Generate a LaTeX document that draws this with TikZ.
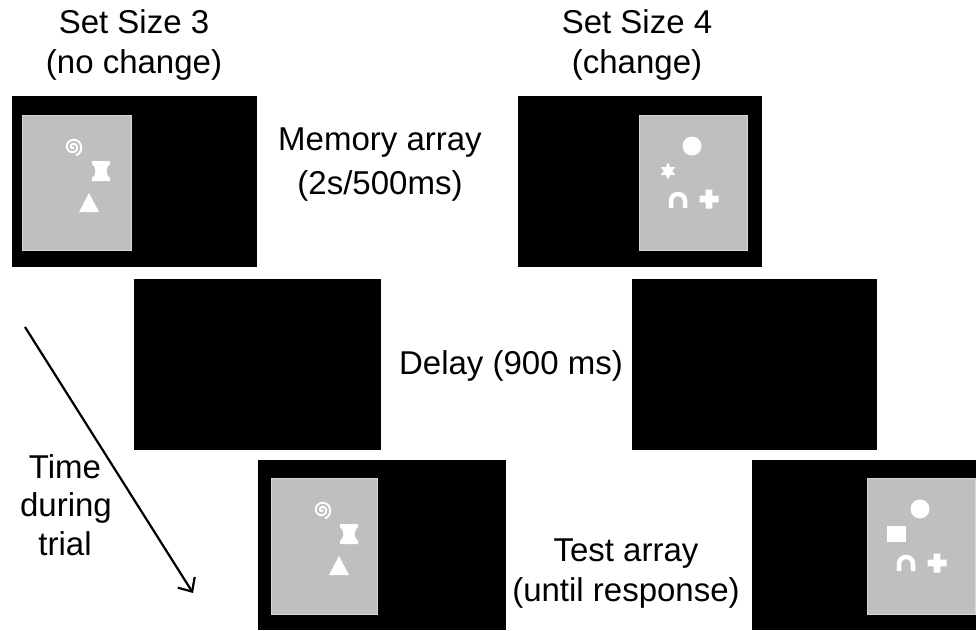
\documentclass[tikz,border=0pt]{standalone}
\usepackage{fontspec}
\setmainfont{Liberation Sans}
\usetikzlibrary{arrows.meta,shapes.geometric}
\begin{document}
\begin{tikzpicture}[x=1pt,y=-1pt,
  screen/.style={fill=black},
  panel/.style={fill={rgb,255:red,191;green,191;blue,191},draw={rgb,255:red,214;green,214;blue,214},line width=0.8pt},
  lbl/.style={inner sep=0pt,outer sep=0pt,anchor=base,text=black,font=\fontsize{33}{40}\selectfont},
  item/.style={fill=white,draw=none}]
\path[use as bounding box,fill=white] (0,0) rectangle (976,630);
% screens
\path[screen] (12,96) rectangle (257,267);
\path[screen] (518,96) rectangle (762,267);
\path[screen] (134,279) rectangle (381,450);
\path[screen] (632,279) rectangle (877,450);
\path[screen] (258,460) rectangle (506,630);
\path[screen] (752,460) rectangle (976,630);
% gray arrays
\path[panel] (22,115) rectangle (131,250);
\path[panel] (639,115) rectangle (747,250);
\path[panel] (271,478) rectangle (377,614);
\path[panel] (867,478) rectangle (975,614);
% set size 3, memory and test
\begin{scope}[shift={(22,115)}]
\draw[white,line width=1.9pt,shift={(51,32)}] plot[domain=0:790,samples=90,smooth] ({\x/88*cos(\x)},{\x/88*sin(\x)});
\path[item,shift={(79,56)}] (-9,-10) -- (9,-10) -- (9,-7) .. controls (4.5,-4) and (4.5,4) .. (9,7) -- (9,10) -- (-9,10) -- (-9,7) .. controls (-4.5,4) and (-4.5,-4) .. (-9,-7) -- cycle;
\path[item,shift={(67,88)}] (0,-10) -- (10,9) -- (-10,9) -- cycle;
\end{scope}
\begin{scope}[shift={(271,478)}]
\draw[white,line width=1.9pt,shift={(51,32)}] plot[domain=0:790,samples=90,smooth] ({\x/88*cos(\x)},{\x/88*sin(\x)});
\path[item,shift={(78,56)}] (-9,-10) -- (9,-10) -- (9,-7) .. controls (4.5,-4) and (4.5,4) .. (9,7) -- (9,10) -- (-9,10) -- (-9,7) .. controls (-4.5,4) and (-4.5,-4) .. (-9,-7) -- cycle;
\path[item,shift={(68,88)}] (0,-10) -- (10,9) -- (-10,9) -- cycle;
\end{scope}
% set size 4, memory
\begin{scope}[shift={(639,115)}]
\path[item] (53,31) circle (9.5);
\node[item,star,star points=6,star point ratio=2,minimum size=17pt,inner sep=0pt] (starA) at (29,56) {};
\draw[white,line width=4.5pt,shift={(39,85)}] (-7,8) -- (-7,1) .. controls (-7,-8.3) and (7,-8.3) .. (7,1) -- (7,8);
\path[item,shift={(70,84)}] (-9.5,-3.3) rectangle (9.5,3.3) (-3.3,-9.5) rectangle (3.3,9.5);
\end{scope}
% set size 4, test (square replaces star)
\begin{scope}[shift={(867,478)}]
\path[item] (53,31) circle (9.5);
\path[item] (19.5,48) rectangle (38.5,64);
\draw[white,line width=4.5pt,shift={(39,85)}] (-7,8) -- (-7,1) .. controls (-7,-8.3) and (7,-8.3) .. (7,1) -- (7,8);
\path[item,shift={(70,85)}] (-9.5,-3.3) rectangle (9.5,3.3) (-3.3,-9.5) rectangle (3.3,9.5);
\end{scope}
% labels
\node[lbl] (sizeA) at (134,33) {Set Size 3};
\node[lbl] (sizeAc) at (134,73) {(no change)};
\node[lbl] (sizeB) at (637,33) {Set Size 4};
\node[lbl] (sizeBc) at (637,73) {(change)};
\node[lbl] (memA) at (380,150) {Memory array};
\node[lbl] (memB) at (380,194) {(2s/500ms)};
\node[lbl] (delay) at (511,374) {Delay (900 ms)};
\node[lbl] (testA) at (626,561) {Test array};
\node[lbl] (testB) at (626,601) {(until response)};
\node[lbl] (timeA) at (65,478) {Time};
\node[lbl] (timeB) at (66,516) {during};
\node[lbl] (timeC) at (65,555) {trial};
% time arrow
\coordinate (tstart) at (25,327);
\coordinate (tend) at (193,593);
\draw[line width=2.2pt,-{Straight Barb[length=11pt,width=20pt]}] (tstart) -- (tend);
\end{tikzpicture}
\end{document}
